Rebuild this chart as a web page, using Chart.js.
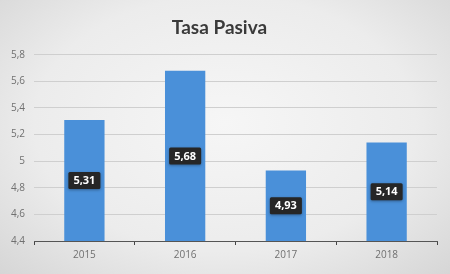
<!DOCTYPE html>
<html><head><meta charset="utf-8">
<script src="https://cdn.jsdelivr.net/npm/chart.js@4"></script>
<style>
html,body{margin:0;padding:0;}
body{width:450px;height:274px;background:radial-gradient(ellipse at 50% 45%, #f6f6f6 0%, #ececec 60%, #d6d6d6 100%);}
#wrap{position:relative;width:450px;height:274px;}
</style></head>
<body><div id="wrap"><canvas id="c" width="450" height="274"></canvas></div>
<script>
const categories = ["2015", "2016", "2017", "2018"];
const tasaPasiva = [5.31, 5.68, 4.93, 5.14];
const yTicks = [4.4, 4.6, 4.8, 5.0, 5.2, 5.4, 5.6, 5.8];

const fmt = v => String(Math.round(v * 100) / 100).replace('.', ',');

function rrect(ctx, x, y, w, h, r) {
  ctx.beginPath();
  ctx.moveTo(x + r, y);
  ctx.lineTo(x + w - r, y);
  ctx.quadraticCurveTo(x + w, y, x + w, y + r);
  ctx.lineTo(x + w, y + h - r);
  ctx.quadraticCurveTo(x + w, y + h, x + w - r, y + h);
  ctx.lineTo(x + r, y + h);
  ctx.quadraticCurveTo(x, y + h, x, y + h - r);
  ctx.lineTo(x, y + r);
  ctx.quadraticCurveTo(x, y, x + r, y);
  ctx.closePath();
}

const labelPlugin = {
  id: 'boxLabels',
  afterDraw(chart) {
    const ctx = chart.ctx;
    const meta = chart.getDatasetMeta(0);
    const ys = chart.scales.y;
    ctx.save();
    ctx.font = 'bold 11px "Open Sans", sans-serif';
    meta.data.forEach((bar, i) => {
      const txt = fmt(tasaPasiva[i]);
      const top = ys.getPixelForValue(tasaPasiva[i]);
      const bottom = ys.getPixelForValue(ys.min);
      const cx = bar.x, cy = (top + bottom) / 2;
      const w = ctx.measureText(txt).width + 10, h = 17;
      ctx.shadowColor = 'rgba(0,0,0,0.35)';
      ctx.shadowBlur = 3;
      ctx.shadowOffsetY = 1;
      ctx.fillStyle = '#262626';
      rrect(ctx, cx - w / 2, cy - h / 2, w, h, 1.5);
      ctx.fill();
      ctx.shadowColor = 'transparent';
      ctx.shadowBlur = 0;
      ctx.fillStyle = '#ffffff';
      ctx.textAlign = 'center';
      ctx.textBaseline = 'middle';
      ctx.fillText(txt, cx, cy + 0.5);
    });
    ctx.restore();
  }
};

new Chart(document.getElementById('c'), {
  type: 'bar',
  data: {
    labels: categories,
    datasets: [{
      data: tasaPasiva,
      backgroundColor: '#4a90d9',
      borderWidth: 0,
      barPercentage: 0.4,
      categoryPercentage: 1.0
    }]
  },
  options: {
    responsive: false,
    animation: false,
    layout: { padding: { left: 2, right: 13, top: 0, bottom: 9 } },
    plugins: {
      legend: { display: false },
      tooltip: { enabled: false },
      title: {
        display: true,
        text: 'Tasa Pasiva',
        color: '#3a3a3a',
        font: { family: 'Lato', size: 19, weight: 'bold' },
        padding: { top: 16, bottom: 16 }
      }
    },
    scales: {
      x: {
        grid: { display: true, drawOnChartArea: false, drawTicks: true, tickLength: 4, color: '#444', offset: true },
        border: { display: true, color: '#555', width: 1 },
        ticks: { color: '#707070', font: { family: 'Open Sans', size: 10 }, padding: 4 }
      },
      y: {
        min: 4.4, max: 5.8,
        afterBuildTicks(axis) { axis.ticks = yTicks.map(v => ({ value: v })); },
        grid: { color: '#cfcfcf', drawTicks: false },
        border: { display: false },
        ticks: { color: '#707070', font: { family: 'Open Sans', size: 10 }, padding: 9, callback: v => fmt(v) }
      }
    }
  },
  plugins: [labelPlugin]
});
</script></body></html>
